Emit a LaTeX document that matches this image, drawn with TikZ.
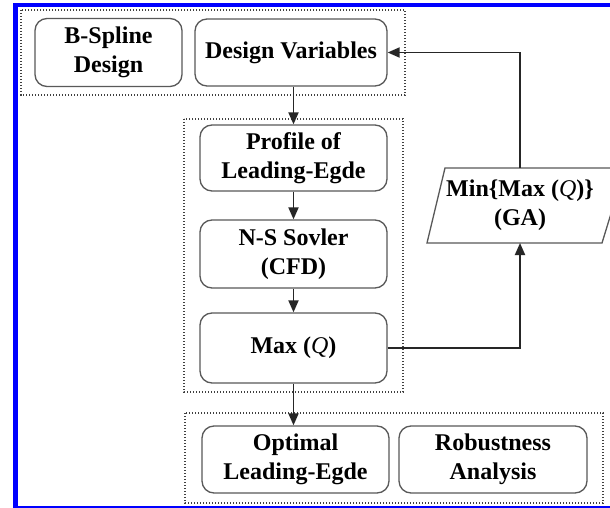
\documentclass[tikz,border=0pt]{standalone}
\usepackage{fontspec}
\setmainfont{Liberation Serif}
\usetikzlibrary{arrows.meta}

\tikzset{
  stage/.style={draw=black!65, line width=1.3pt, rounded corners=12pt,
    fill=white, inner sep=0pt, align=center,
    font=\fontsize{24}{29}\selectfont\bfseries},
  group/.style={draw=black!75, line width=1.4pt,
    dash pattern=on 1.4pt off 1.6pt},
  flow/.style={draw=black!85, line width=1.9pt,
    -{Triangle[length=12pt,width=10pt]}},
  frame/.style={fill=blue}
}

\begin{document}
\begin{tikzpicture}[x=1pt,y=-1pt]
\useasboundingbox (0,0) rectangle (610,508);
\fill[white] (0,0) rectangle (610,508);

% page frame (left, top, bottom)
\fill[frame] (13,3) rectangle (610,7.5);
\fill[frame] (13,3) rectangle (18,508);
\fill[frame] (13,505.5) rectangle (610,508);

% dotted groups
\draw[group] (21,10) rectangle (405,95);
\draw[group] (184,119) rectangle (403,392);
\draw[group] (185,413) rectangle (603,503);

% top row
\node[stage, minimum width=147pt, minimum height=68pt] (bspline) at (108.5,52.5) {B-Spline\\Design};
\node[stage, minimum width=192pt, minimum height=67pt] (dv) at (291,52.5) {Design Variables};

% analysis chain
\node[stage, minimum width=187pt, minimum height=66pt] (profile) at (293.5,158) {Profile of\\Leading-Egde};
\node[stage, minimum width=187pt, minimum height=68pt] (ns) at (293.5,254) {N-S Sovler\\(CFD)};
\node[stage, minimum width=187pt, minimum height=70pt] (maxq) at (293.5,348) {Max (\textnormal{\itshape Q})};

% results row
\node[stage, minimum width=187pt, minimum height=67pt] (optimal) at (295.5,459.5) {Optimal\\Leading-Egde};
\node[stage, minimum width=188pt, minimum height=67pt] (robust) at (493,459.5) {Robustness\\Analysis};

% optimiser (parallelogram)
\coordinate (gatop) at (520,168);
\coordinate (gabot) at (520,243);
\draw[draw=black!65, line width=1.3pt, fill=white]
  (445,168) -- (625,168) -- (602,243) -- (427,243) -- cycle;
\node[align=center, font=\fontsize{24}{29}\selectfont\bfseries] (ga) at (520,205)
  {Min\{Max (\textnormal{\itshape Q})\}\\(GA)};

% connectors
\draw[flow] (profile.north |- dv.south) -- (profile.north);
\draw[flow] (profile.south) -- (ns.north);
\draw[flow] (ns.south) -- (maxq.north);
\draw[flow] (maxq.south) -- (maxq.south |- optimal.north);
\draw[flow] (maxq.east) -- (maxq.east -| gabot) -- (gabot);
\draw[flow] (gatop) -- (gatop |- dv.east) -- (dv.east);
\end{tikzpicture}
\end{document}
